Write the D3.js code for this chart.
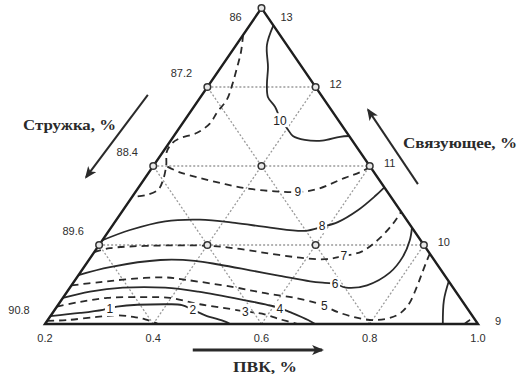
<!DOCTYPE html>
<meta charset="utf-8">
<style>
body { margin:0; background:#fff; }
svg { display:block; }
.tick { font-family: "Liberation Sans", Arial, sans-serif; font-size: 11px; fill:#2e2e2e; }
.clabel { font-family: "Liberation Sans", Arial, sans-serif; font-size: 12px; fill:#222; }
.title { font-family: "Liberation Serif", "Times New Roman", serif; font-weight:bold; font-size:14px; fill:#2a2a2a; }
</style>
<body>
<div id="chart"></div>
<script src="https://cdn.jsdelivr.net/npm/d3@7"></script>
<script>
// point = [ПВК position along the base, Связующее level (9 at base, 13 at apex)]
var pvkTicks = [0.2, 0.4, 0.6, 0.8, 1.0];
var binderTicks = [13, 12, 11, 10, 9];
var chipsTicks = [86, 87.2, 88.4, 89.6, 90.8];   // same rows as binderTicks
var corners = [[0.2, 9], [0.6, 13], [1.0, 9]];

// design points of the plan (small circles)
var designPoints = [[0.6, 13], [0.5, 12], [0.7, 12], [0.4, 11], [0.6, 11], [0.8, 11],
                    [0.3, 10], [0.5, 10], [0.7, 10], [0.9, 10]];

// dotted grid inside the triangle
var gridLines = [
  [[0.5, 12], [0.7, 12]], [[0.4, 11], [0.8, 11]], [[0.3, 10], [0.9, 10]],
  [[0.4, 9], [0.7, 12]], [[0.6, 9], [0.8, 11]], [[0.8, 9], [0.9, 10]],
  [[0.8, 9], [0.5, 12]], [[0.6, 9], [0.4, 11]], [[0.4, 9], [0.3, 10]]
];

// isolines
var iso1 = [[0.204,9.04],[0.241,9.05],[0.296,9.09],[0.333,9.11],[0.363,9.09],[0.385,9.06],[0.409,9.0]];
var iso2 = [[0.210,9.10],[0.265,9.14],[0.307,9.18],[0.333,9.22],[0.427,9.25],[0.453,9.24],[0.473,9.18],[0.496,9.11],[0.533,9.03],[0.542,9.0]];
var iso3 = [[0.222,9.22],[0.265,9.28],[0.315,9.33],[0.376,9.34],[0.431,9.33],[0.486,9.25],[0.542,9.19],[0.570,9.16],[0.601,9.13],[0.634,9.06],[0.667,9.0]];
var iso3b = [[0.975,9.0],[0.985,9.05],[0.993,9.07]];
var iso4 = [[0.233,9.33],[0.283,9.41],[0.344,9.46],[0.422,9.46],[0.483,9.41],[0.570,9.30],[0.612,9.24],[0.634,9.20],[0.656,9.14],[0.686,9.05],[0.699,9.0]];
var iso4b = [[0.935,9.0],[0.937,9.30],[0.946,9.54]];
var iso5 = [[0.249,9.49],[0.302,9.53],[0.357,9.57],[0.422,9.59],[0.459,9.56],[0.546,9.47],[0.607,9.39],[0.662,9.33],[0.699,9.27],[0.716,9.23],[0.745,9.14],[0.806,9.05],[0.850,9.11],[0.871,9.24],[0.887,9.47],[0.897,9.65],[0.906,9.81],[0.911,9.89]];
var iso6 = [[0.262,9.62],[0.320,9.72],[0.413,9.81],[0.477,9.80],[0.523,9.75],[0.579,9.68],[0.634,9.61],[0.690,9.54],[0.717,9.52],[0.736,9.51],[0.756,9.46],[0.795,9.49],[0.837,9.65],[0.861,9.85],[0.874,10.06],[0.878,10.22]];
var iso7 = [[0.291,9.91],[0.320,9.96],[0.394,9.99],[0.501,9.99],[0.560,9.95],[0.616,9.89],[0.671,9.84],[0.717,9.82],[0.752,9.86],[0.786,9.92],[0.819,10.09],[0.843,10.27],[0.858,10.42]];
var iso8 = [[0.306,10.06],[0.357,10.19],[0.422,10.30],[0.486,10.32],[0.551,10.28],[0.616,10.22],[0.680,10.18],[0.712,10.23],[0.741,10.29],[0.778,10.44],[0.810,10.62],[0.827,10.73]];
var iso9 = [[0.801,10.99],[0.782,10.92],[0.754,10.85],[0.704,10.71],[0.667,10.67],[0.625,10.68],[0.579,10.71],[0.533,10.77],[0.486,10.85],[0.449,10.92],[0.424,11.0]];
var iso9b = [[0.566,12.66],[0.562,12.44],[0.555,12.25],[0.546,12.03],[0.536,11.84],[0.518,11.68],[0.505,11.54],[0.481,11.42],[0.449,11.35],[0.435,11.29],[0.425,11.18],[0.424,11.01],[0.418,10.82],[0.409,10.70],[0.385,10.63],[0.361,10.61]];
var iso10 = [[0.622,12.78],[0.610,12.53],[0.612,12.25],[0.610,12.03],[0.612,11.87],[0.625,11.75],[0.634,11.61],[0.649,11.46],[0.658,11.38],[0.680,11.33],[0.712,11.32],[0.745,11.37],[0.762,11.38]];

var isolines = [
  {level: 1, pts: iso1}, {level: 2, pts: iso2}, {level: 3, pts: iso3}, {level: 3, pts: iso3b},
  {level: 4, pts: iso4}, {level: 4, pts: iso4b}, {level: 5, pts: iso5}, {level: 6, pts: iso6},
  {level: 7, pts: iso7}, {level: 8, pts: iso8}, {level: 9, pts: iso9}, {level: 9, pts: iso9b},
  {level: 10, pts: iso10}
];

var isoLabels = [1, 2, 3, 4, 5, 6, 7, 8, 9, 10];
var isoLabelPos = [[0.320,9.19],[0.473,9.18],[0.570,9.16],[0.634,9.19],[0.716,9.23],
                   [0.736,9.51],[0.752,9.86],[0.712,10.24],[0.667,10.67],[0.634,11.58]];

// arrows beside the axes
var chipsArrow = [[0.390, 11.90], [0.276, 10.86]];
var binderArrow = [[0.889, 10.77], [0.797, 11.71]];
var pvkArrow = [[0.473, 8.67], [0.712, 8.67]];

var width = 518, height = 374;

var x = d3.scaleLinear().domain([0.2, 1.0]).range([45, 478]);
var y = d3.scaleLinear().domain([9, 13]).range([324, 8]);

var svg = d3.select("#chart").append("svg").attr("width", width).attr("height", height);

var defs = svg.append("defs");
defs.append("marker")
  .attr("id", "head")
  .attr("viewBox", "0 0 12 10")
  .attr("refX", 10).attr("refY", 5)
  .attr("markerWidth", 12).attr("markerHeight", 10)
  .attr("markerUnits", "userSpaceOnUse")
  .attr("orient", "auto")
  .append("path")
  .attr("d", "M0,0 L12,5 L0,10 L3,5 Z")
  .attr("fill", "#2a2a2a");

var line = d3.line().x(function(d) { return x(d[0]); }).y(function(d) { return y(d[1]); });
var smooth = d3.line().x(function(d) { return x(d[0]); }).y(function(d) { return y(d[1]); })
  .curve(d3.curveCatmullRom.alpha(0.5));

// dotted grid
svg.append("g").selectAll("path")
  .data(gridLines)
  .enter()
  .append("path")
  .attr("d", line)
  .attr("fill", "none")
  .attr("stroke", "#9a9a9a")
  .attr("stroke-width", 1.3)
  .attr("stroke-dasharray", "2,2");

// isolines: odd values dashed, even values solid
svg.append("g").selectAll("path")
  .data(isolines)
  .enter()
  .append("path")
  .attr("d", function(d) { return smooth(d.pts); })
  .attr("fill", "none")
  .attr("stroke", "#2a2a2a")
  .attr("stroke-width", 1.8)
  .attr("stroke-dasharray", function(d) { return d.level % 2 == 1 ? "7,5" : null; });

// triangle
svg.append("path")
  .attr("d", line(corners) + "Z")
  .attr("fill", "none")
  .attr("stroke", "#1e1e1e")
  .attr("stroke-width", 2.4)
  .attr("stroke-linejoin", "miter");

// design points
svg.append("g").selectAll("circle")
  .data(designPoints)
  .enter()
  .append("circle")
  .attr("cx", function(d) { return x(d[0]); })
  .attr("cy", function(d) { return y(d[1]); })
  .attr("r", 3.3)
  .attr("fill", "#e8e8e8")
  .attr("stroke", "#333")
  .attr("stroke-width", 1.5);

// isoline labels with white knock-out
var lab = svg.append("g").selectAll("g")
  .data(isoLabels)
  .enter()
  .append("g")
  .attr("transform", function(d, i) { return "translate(" + x(isoLabelPos[i][0]) + "," + y(isoLabelPos[i][1]) + ")"; });
lab.append("rect")
  .attr("x", function(d) { return d >= 10 ? -9 : -5; })
  .attr("y", -7)
  .attr("width", function(d) { return d >= 10 ? 18 : 10; })
  .attr("height", 14)
  .attr("fill", "#fff");
lab.append("text")
  .attr("class", "clabel")
  .attr("text-anchor", "middle")
  .attr("dy", "0.36em")
  .text(function(d) { return d; });

// base ticks
svg.append("g").selectAll("text")
  .data(pvkTicks)
  .enter()
  .append("text")
  .attr("class", "tick")
  .attr("x", function(d) { return x(d); })
  .attr("y", y(9) + 18)
  .attr("text-anchor", "middle")
  .text(function(d) { return d.toFixed(1); });

// left side (Стружка) ticks
svg.append("g").selectAll("text")
  .data(chipsTicks)
  .enter()
  .append("text")
  .attr("class", "tick")
  .attr("x", function(d, i) { var lv = binderTicks[i]; return x(0.2 + 0.1 * (lv - 9)) - 26; })
  .attr("y", function(d, i) { var lv = binderTicks[i]; return y(lv) + (i == 0 ? 13 : -10); })
  .attr("text-anchor", "middle")
  .text(function(d) { return d; });

// right side (Связующее) ticks
svg.append("g").selectAll("text")
  .data(binderTicks)
  .enter()
  .append("text")
  .attr("class", "tick")
  .attr("x", function(d) { return x(1.0 - 0.1 * (d - 9)) + (d == 13 ? 25 : 20); })
  .attr("y", function(d) { return y(d) + (d == 13 ? 13 : 1); })
  .attr("text-anchor", "middle")
  .text(function(d) { return d; });

// arrows
[chipsArrow, binderArrow].forEach(function(a) {
  svg.append("path")
    .attr("d", line(a))
    .attr("stroke", "#2a2a2a")
    .attr("stroke-width", 2)
    .attr("marker-end", "url(#head)");
});
svg.append("path")
  .attr("d", line(pvkArrow))
  .attr("stroke", "#2a2a2a")
  .attr("stroke-width", 3)
  .attr("marker-end", "url(#head)");

// axis titles
svg.append("text").attr("class", "title")
  .attr("x", 23).attr("y", 130)
  .attr("textLength", 93).attr("lengthAdjust", "spacingAndGlyphs")
  .text("Стружка, %");
svg.append("text").attr("class", "title")
  .attr("x", 403).attr("y", 148)
  .attr("textLength", 114).attr("lengthAdjust", "spacingAndGlyphs")
  .text("Связующее, %");
svg.append("text").attr("class", "title")
  .attr("x", 233).attr("y", 372)
  .attr("textLength", 64).attr("lengthAdjust", "spacingAndGlyphs")
  .text("ПВК, %");
</script>
</body>
